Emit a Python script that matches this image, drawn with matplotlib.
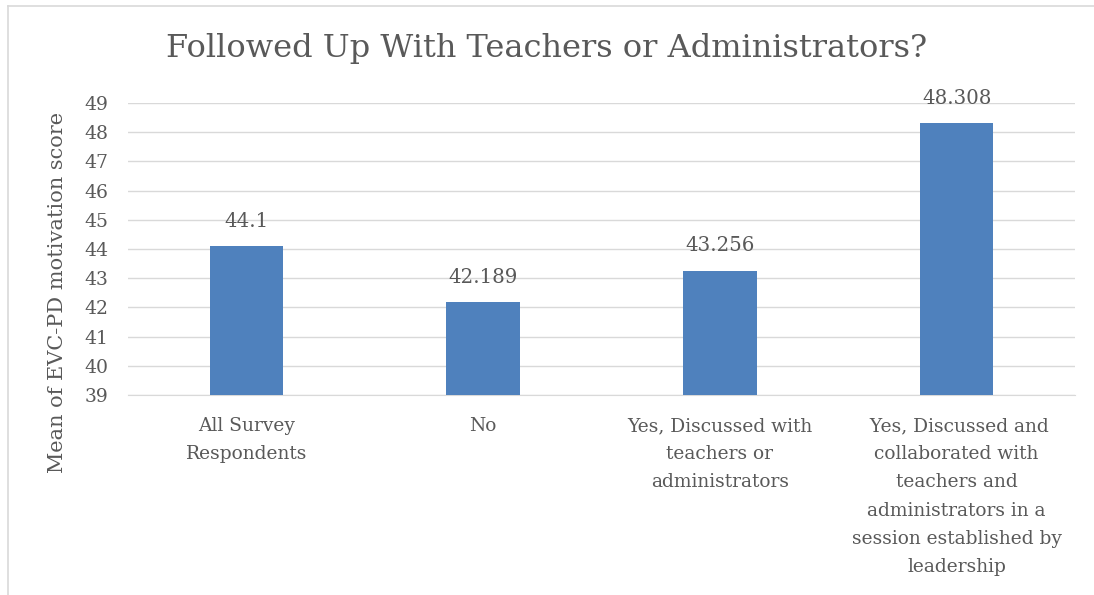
import matplotlib.pyplot as plt
from matplotlib.lines import Line2D

# data
categories = [
    "All Survey\nRespondents",
    "No",
    "Yes, Discussed with\nteachers or\nadministrators",
    " Yes, Discussed and\ncollaborated with\nteachers and\nadministrators in a\nsession established by\nleadership",
]
means = [44.1, 42.189, 43.256, 48.308]
value_labels = ["44.1", "42.189", "43.256", "48.308"]
y_ticks = list(range(39, 50))

text_color = "#595959"
bar_color = "#4F81BD"
grid_color = "#D9D9D9"
plt.rcParams['font.family'] = ['DejaVu Serif']

fig = plt.figure(figsize=(10.94, 5.95), dpi=100)
ax = fig.add_axes([0.117, 0.336, 0.8656, 0.491])

x = range(len(categories))
bars = ax.bar(x, means, width=0.31, color=bar_color, zorder=3)
ax.set_ylim(39, 49)
ax.set_xlim(-0.5, len(categories) - 0.5)
ax.set_yticks(y_ticks)
ax.set_xticks(list(x))
ax.set_xticklabels(categories, fontsize=13.4, color=text_color, linespacing=1.72, va='top')
ax.tick_params(axis='y', length=0, pad=14, labelsize=13.5, labelcolor=text_color)
ax.tick_params(axis='x', length=0, pad=16)
ax.grid(axis='y', color=grid_color, linewidth=1, zorder=0)
for s in ['top', 'right', 'left']:
    ax.spines[s].set_visible(False)
ax.spines['bottom'].set_color(grid_color)

for b, lab in zip(bars, value_labels):
    ax.annotate(lab, (b.get_x() + b.get_width() / 2, b.get_height()),
                xytext=(0, 11), textcoords='offset points',
                ha='center', va='bottom', fontsize=14.2, color=text_color)

fig.text(0.5, 0.918, "Followed Up With Teachers or Administrators?",
         ha='center', va='center', fontsize=23, color=text_color)
fig.text(0.053, 1 - 292 / 595, "Mean of EVC-PD motivation score",
         rotation=90, ha='center', va='center', fontsize=15, color=text_color)

# chart border (only top and left visible in the reference)
fig.add_artist(Line2D([0.0073, 0.0073], [0, 0.99], transform=fig.transFigure,
                      color=grid_color, linewidth=1.2))
fig.add_artist(Line2D([0.0073, 1], [0.99, 0.99], transform=fig.transFigure,
                      color=grid_color, linewidth=1.2))

fig.savefig("out.png", dpi=100)
